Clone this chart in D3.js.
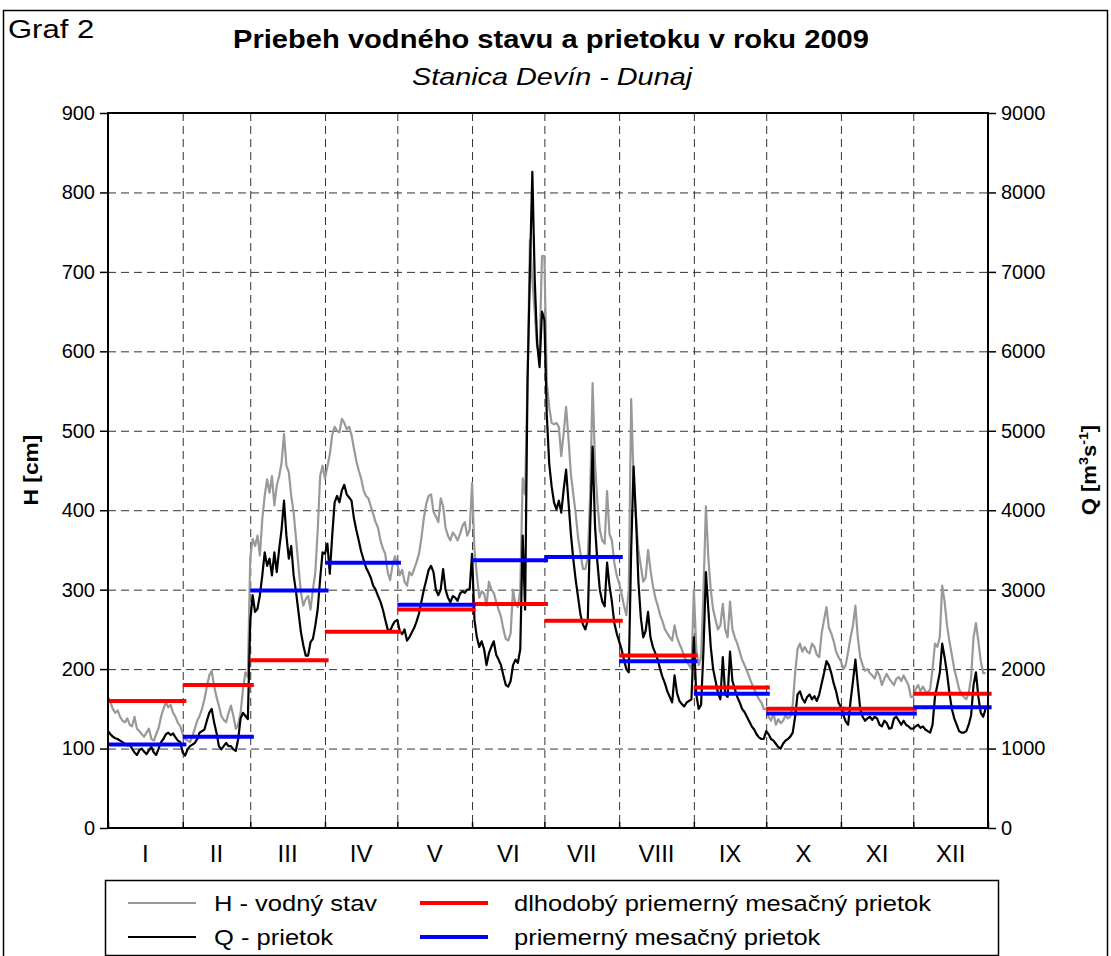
<!DOCTYPE html>
<html>
<head>
<meta charset="utf-8">
<script src="https://cdn.jsdelivr.net/npm/d3@7/dist/d3.min.js"></script>
<style>
  body { margin: 0; background: #fff; }
  svg text { font-family: "Liberation Sans", Arial, sans-serif; fill: #000; }
</style>
</head>
<body>
<svg id="chart" width="1111" height="956"></svg>
<script>
const months = ["I", "II", "III", "IV", "V", "VI", "VII", "VIII", "IX", "X", "XI", "XII"]
const monthDays = [31, 28, 31, 30, 31, 30, 31, 31, 30, 31, 30, 31]

// daily water level H [cm], one line per month
const hLevel = [
  165,158,150,145,148,140,135,133,138,130,128,140,125,122,118,115,120,125,112,110,118,126,140,150,158,152,155,145,140,132,128,
  118,112,110,108,115,125,135,141,150,162,178,192,198,179,165,154,141,136,133,145,154,141,125,130,145,175,196,190,
  340,364,355,368,343,389,418,439,422,443,406,431,443,460,496,456,448,418,397,364,330,297,280,288,292,275,300,322,376,443,456,
  440,455,470,495,505,500,498,515,510,502,505,495,478,462,450,440,425,418,415,405,395,385,378,362,352,345,322,312,330,342,
  332,318,325,310,305,322,318,326,335,345,365,390,408,418,420,398,392,385,415,405,378,368,362,372,368,362,370,380,385,368,375,
  434,350,318,290,298,295,280,310,300,296,285,275,266,250,238,236,245,300,282,278,300,440,420,560,740,690,650,605,600,720,
  720,560,530,510,508,510,505,468,497,530,490,445,420,395,365,345,326,326,340,420,560,460,409,375,362,358,424,370,362,334,318,
  308,295,280,268,300,540,440,390,350,330,310,315,350,325,305,290,280,268,260,250,245,240,236,255,240,232,225,215,210,205,200,
  300,225,205,215,300,405,340,300,275,262,250,255,282,250,240,285,250,240,232,222,212,205,198,190,182,175,168,162,158,150,
  150,140,135,145,130,137,132,135,142,138,140,155,195,225,232,222,228,222,220,232,228,218,215,245,262,278,252,245,235,222,215,
  210,200,205,222,240,255,280,240,215,205,198,200,195,192,188,198,192,180,188,194,188,184,180,188,190,185,192,186,180,165,
  165,175,180,172,178,172,170,175,200,232,228,240,305,285,255,235,218,200,188,175,168,165,162,170,190,240,258,235,210,195,195
]

// daily discharge Q [m3/s], one line per month
const qFlow = [
  1220,1180,1150,1130,1120,1100,1080,1060,1040,1050,1000,950,920,980,1000,960,930,980,1020,950,920,1000,1080,1120,1180,1200,1170,1190,1140,1100,1080,
  950,910,990,1030,1050,1070,1120,1200,1220,1240,1350,1450,1500,1330,1200,1030,990,1030,1070,1030,1030,990,970,1120,1380,1450,1410,1370,
  2600,2930,2720,2760,2930,3180,3470,3300,3390,3180,3470,3220,3510,3760,4120,3680,3390,3550,3180,2970,2720,2470,2300,2170,2170,2340,2380,2550,2760,3140,3470,
  3450,3580,3200,3680,4100,4180,4100,4250,4320,4200,4160,4120,3900,3750,3620,3480,3380,3280,3220,3150,3050,3000,2920,2850,2750,2620,2500,2480,2550,2600,
  2620,2480,2440,2500,2360,2400,2460,2520,2600,2700,2850,3000,3120,3250,3300,3220,3000,2930,3000,3260,3000,2900,2840,2920,2900,2860,2950,2980,2960,3000,3000,
  3450,2620,2400,2280,2350,2250,2050,2200,2280,2350,2180,2120,2050,1920,1800,1780,1850,2050,2120,2080,2250,3680,2750,5600,7000,8260,6900,6100,5800,6500,
  6400,5200,4590,4300,4100,4010,4120,3970,4260,4510,4100,3700,3380,3120,2900,2680,2560,2500,2620,3800,4800,3800,3340,3000,2850,2790,3340,3050,2850,2580,2450,
  2350,2250,2120,2000,1960,3500,4550,3900,3100,2650,2400,2480,2720,2400,2280,2200,2120,2000,1900,1820,1720,1650,1580,1920,1700,1600,1560,1530,1580,1600,1620,
  2400,1680,1500,1550,2250,3220,2750,2280,2000,1850,1700,1620,2150,1680,1650,2220,1850,1750,1650,1580,1500,1460,1400,1340,1280,1240,1180,1140,1120,1120,
  1220,1180,1120,1100,1060,1020,1000,1060,1100,1120,1150,1200,1400,1680,1720,1630,1580,1650,1680,1620,1660,1600,1680,1820,1950,2100,2050,1950,1820,1720,1580,
  1520,1420,1340,1300,1600,1850,2120,1800,1500,1400,1350,1380,1400,1360,1400,1380,1300,1280,1350,1320,1250,1260,1380,1400,1350,1300,1350,1300,1280,1250,
  1250,1280,1300,1260,1280,1240,1220,1200,1300,1650,1800,1950,2320,2150,1950,1700,1500,1380,1300,1220,1200,1200,1220,1300,1420,1800,1960,1650,1450,1400,1500
]

// monthly mean discharge [m3/s]
const qLongTerm = [1600, 1800, 2110, 2470, 2750, 2820, 2610, 2170, 1770, 1500, 1500, 1690]
const qMonthMean = [1050, 1150, 2990, 3340, 2810, 3370, 3410, 2100, 1690, 1440, 1440, 1520]

const hTicks = [0, 100, 200, 300, 400, 500, 600, 700, 800, 900]
const qTicks = [0, 1000, 2000, 3000, 4000, 5000, 6000, 7000, 8000, 9000]

// ---- layout ----
const plotL = 108, plotR = 988, plotT = 113, plotB = 828

const monthStart = monthDays.map((d, i) => d3.sum(monthDays.slice(0, i)))

const x = d3.scaleLinear().domain([0, 365]).range([plotL, plotR])
const yH = d3.scaleLinear().domain([0, 900]).range([plotB, plotT])
const yQ = d3.scaleLinear().domain([0, 9000]).range([plotB, plotT])

const svg = d3.select("#chart")

// the source chart uses a wide-set face, so widen the text a bit
function stretch(sel, k) {
  sel.each(function() {
    const w = this.getComputedTextLength()
    d3.select(this).attr("textLength", w * k).attr("lengthAdjust", "spacingAndGlyphs")
  })
}

// outer frame
svg.append("rect")
  .attr("x", 3.5).attr("y", 10.5)
  .attr("width", 1104).attr("height", 960)
  .attr("fill", "none").attr("stroke", "#000").attr("stroke-width", 1.5)

svg.append("text").attr("x", 8).attr("y", 38)
  .attr("font-size", 25).text("Graf 2")
  .call(stretch, 1.24)

svg.append("text").attr("x", 551).attr("y", 48)
  .attr("text-anchor", "middle").attr("font-size", 26).attr("font-weight", "bold")
  .text("Priebeh vodného stavu a prietoku v roku 2009")
  .call(stretch, 1.12)

svg.append("text").attr("x", 552).attr("y", 85)
  .attr("text-anchor", "middle").attr("font-size", 24).attr("font-style", "italic")
  .text("Stanica Devín - Dunaj")
  .call(stretch, 1.2)

// grid
const grid = svg.append("g")
  .attr("stroke", "#333").attr("stroke-width", 1).attr("stroke-dasharray", "8,5")

grid.selectAll("line.h")
  .data(hTicks.filter(t => t > 0 && t < 900))
  .join("line")
  .attr("class", "h")
  .attr("x1", plotL).attr("x2", plotR)
  .attr("y1", d => yH(d) + 0.5).attr("y2", d => yH(d) + 0.5)

grid.selectAll("line.v")
  .data(monthStart.slice(1))
  .join("line")
  .attr("class", "v")
  .attr("x1", d => x(d) + 0.5).attr("x2", d => x(d) + 0.5)
  .attr("y1", plotT).attr("y2", plotB)

// series
const line = (scale) => d3.line()
  .x((d, i) => x(i))
  .y(d => scale(d))

svg.append("path")
  .datum(hLevel)
  .attr("d", line(yH))
  .attr("fill", "none").attr("stroke", "#999").attr("stroke-width", 2.2)
  .attr("stroke-linejoin", "round")

svg.append("path")
  .datum(qFlow)
  .attr("d", line(yQ))
  .attr("fill", "none").attr("stroke", "#000").attr("stroke-width", 2.2)
  .attr("stroke-linejoin", "round")

// monthly means
function monthBars(values, color) {
  svg.append("g").selectAll("line")
    .data(values)
    .join("line")
    .attr("x1", (d, i) => x(monthStart[i]))
    .attr("x2", (d, i) => x(monthStart[i] + monthDays[i] + 1.5))
    .attr("y1", d => yQ(d)).attr("y2", d => yQ(d))
    .attr("stroke", color).attr("stroke-width", 4)
}
monthBars(qLongTerm, "#ff0000")
monthBars(qMonthMean, "#0000ff")

// plot frame
svg.append("rect")
  .attr("x", plotL).attr("y", plotT)
  .attr("width", plotR - plotL).attr("height", plotB - plotT)
  .attr("fill", "none").attr("stroke", "#000").attr("stroke-width", 2)

// axes
const axL = svg.append("g")
  .attr("transform", `translate(${plotL},0)`)
  .call(d3.axisLeft(yH).tickValues(hTicks).tickSize(8).tickPadding(5))
const axR = svg.append("g")
  .attr("transform", `translate(${plotR},0)`)
  .call(d3.axisRight(yQ).tickValues(qTicks).tickSize(8).tickPadding(5).tickFormat(d3.format("d")))
const axB = svg.append("g")
  .attr("transform", `translate(0,${plotB})`)
  .call(d3.axisBottom(x).tickValues(monthStart.concat([365])).tickSize(-6).tickFormat(""))

;[axL, axR, axB].forEach(a => {
  a.select(".domain").remove()
  a.selectAll(".tick line").attr("stroke", "#000").attr("stroke-width", 1.5)
  a.selectAll("text").attr("font-size", 20).attr("font-family", "Liberation Sans, Arial, sans-serif")
})

svg.append("g").selectAll("text")
  .data(months)
  .join("text")
  .attr("x", (d, i) => x(monthStart[i] + monthDays[i] / 2))
  .attr("y", 862)
  .attr("text-anchor", "middle").attr("font-size", 24)
  .text(d => d)

// axis titles
svg.append("text")
  .attr("transform", "translate(38,470) rotate(-90) scale(1.14,1)")
  .attr("text-anchor", "middle").attr("font-size", 20).attr("font-weight", "bold")
  .text("H [cm]")

const qt = svg.append("text")
  .attr("transform", "translate(1096,470) rotate(-90) scale(1.1,1)")
  .attr("text-anchor", "middle").attr("font-size", 20).attr("font-weight", "bold")
qt.append("tspan").text("Q [m")
qt.append("tspan").attr("dy", -8).attr("font-size", 13).text("3")
qt.append("tspan").attr("dy", 8).text("s")
qt.append("tspan").attr("dy", -8).attr("font-size", 13).text("-1")
qt.append("tspan").attr("dy", 8).text("]")

// legend
const legendItems = [
  {label: "H - vodný stav", color: "#999", w: 2, col: 0, row: 0},
  {label: "Q - prietok", color: "#000", w: 2, col: 0, row: 1},
  {label: "dlhodobý priemerný mesačný prietok", color: "#ff0000", w: 4, col: 1, row: 0},
  {label: "priemerný mesačný prietok", color: "#0000ff", w: 4, col: 1, row: 1}
]
const lg = svg.append("g")
lg.append("rect")
  .attr("x", 105.5).attr("y", 880.5).attr("width", 893).attr("height", 75)
  .attr("fill", "#fff").attr("stroke", "#000").attr("stroke-width", 1.5)

const colX = [128, 420]
const rowY = [903, 937]
const item = lg.selectAll("g.item").data(legendItems).join("g")
  .attr("transform", d => `translate(${colX[d.col]},${rowY[d.row]})`)
item.append("line")
  .attr("x1", 0).attr("x2", 68)
  .attr("stroke", d => d.color).attr("stroke-width", d => d.w)
item.append("text")
  .attr("x", d => d.col === 0 ? 86 : 94).attr("y", 8)
  .attr("font-size", 22)
  .text(d => d.label)
  .call(stretch, 1.16)
</script>
</body>
</html>
